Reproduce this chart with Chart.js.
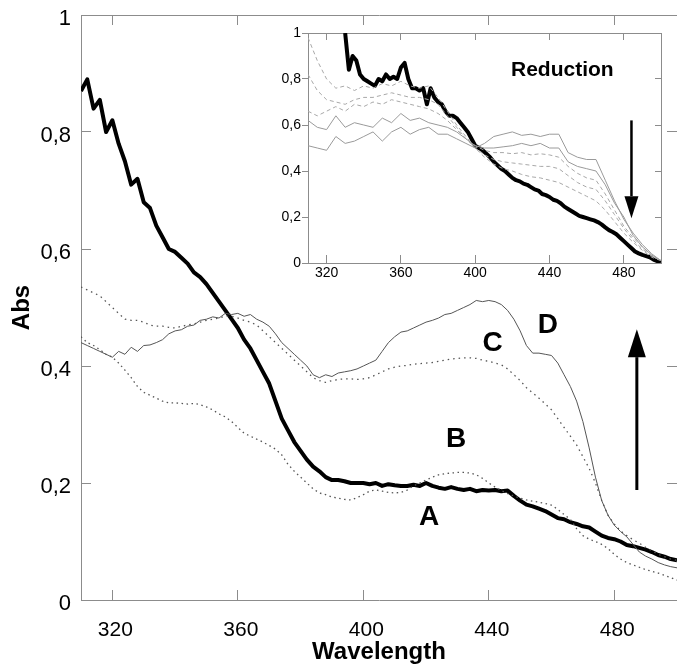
<!DOCTYPE html>
<html>
<head>
<meta charset="utf-8">
<script src="https://cdn.jsdelivr.net/npm/chart.js@4.4.1/dist/chart.umd.min.js"></script>
<style>
  html, body { margin: 0; padding: 0; background: #fff; }
  #wrap { position: relative; width: 677px; height: 664px; }
  #main { position: absolute; left: 0; top: 0; }
  #inset { position: absolute; left: 260px; top: 18px; }
</style>
</head>
<body>
<div id="wrap">
  <canvas id="main" width="677" height="664"></canvas>
  <canvas id="inset" width="410" height="275"></canvas>
</div>
<script>
// ---- data ----
// main plot: one value every 2 nm, 310..500
const mainWavelengths = Array.from({length: 96}, (_, i) => 310 + i * 2);
const curveA = [
  0.87, 0.89, 0.84, 0.855, 0.80, 0.82, 0.78, 0.75, 0.71, 0.72,
  0.68, 0.67, 0.64, 0.62, 0.60, 0.595, 0.585, 0.575, 0.56, 0.552,
  0.54, 0.525, 0.51, 0.495, 0.48, 0.465, 0.445, 0.43, 0.41, 0.39,
  0.37, 0.34, 0.31, 0.29, 0.27, 0.255, 0.24, 0.228, 0.22, 0.21,
  0.205, 0.205, 0.203, 0.2, 0.2, 0.2, 0.198, 0.2, 0.195, 0.198,
  0.196, 0.195, 0.195, 0.197, 0.195, 0.2, 0.195, 0.192, 0.19, 0.193,
  0.19, 0.188, 0.19, 0.186, 0.188, 0.187, 0.188, 0.186, 0.187, 0.178,
  0.17, 0.163, 0.16, 0.156, 0.152, 0.146, 0.14, 0.138, 0.133, 0.13,
  0.126, 0.124, 0.117, 0.11, 0.106, 0.104, 0.1, 0.094, 0.092, 0.089,
  0.086, 0.082, 0.077, 0.074, 0.07, 0.068
];
const curveB = [
  0.45, 0.44, 0.435, 0.428, 0.42, 0.415, 0.405, 0.393, 0.38, 0.365,
  0.355, 0.35, 0.345, 0.34, 0.337, 0.337, 0.336, 0.335, 0.336, 0.334,
  0.33, 0.325, 0.318, 0.313, 0.305, 0.295, 0.285, 0.28, 0.275, 0.27,
  0.264, 0.258, 0.248, 0.232, 0.22, 0.21, 0.2, 0.19, 0.183, 0.18,
  0.176, 0.174, 0.172, 0.171, 0.175, 0.18, 0.186, 0.188, 0.186, 0.184,
  0.183, 0.184, 0.188, 0.195, 0.2, 0.205, 0.21, 0.214, 0.216, 0.217,
  0.218, 0.218, 0.217, 0.214, 0.208, 0.2, 0.193, 0.187, 0.182, 0.178,
  0.174, 0.171, 0.169, 0.167, 0.165, 0.162, 0.155, 0.146, 0.138, 0.122,
  0.11, 0.104, 0.1, 0.095, 0.088, 0.078, 0.07, 0.064, 0.06, 0.056,
  0.052, 0.049, 0.046, 0.042, 0.038, 0.034
];
const curveC = [
  0.535, 0.53, 0.525, 0.52, 0.51, 0.50, 0.49, 0.48, 0.478, 0.478,
  0.475, 0.47, 0.468, 0.468, 0.466, 0.465, 0.468, 0.47, 0.472, 0.475,
  0.478, 0.48, 0.482, 0.485, 0.485, 0.482, 0.478, 0.475, 0.47, 0.46,
  0.45, 0.44, 0.43, 0.42, 0.41, 0.40, 0.39, 0.38, 0.375, 0.372,
  0.375, 0.377, 0.378, 0.378, 0.377, 0.378, 0.38, 0.385, 0.39, 0.395,
  0.398, 0.40, 0.401, 0.403, 0.404, 0.405, 0.406, 0.408, 0.41, 0.412,
  0.413, 0.414, 0.414, 0.413, 0.41, 0.408, 0.405, 0.402, 0.395, 0.385,
  0.375, 0.363, 0.354, 0.345, 0.335, 0.325, 0.31, 0.295, 0.28, 0.265,
  0.245, 0.225, 0.2, 0.17, 0.145, 0.13, 0.118, 0.11, 0.103, 0.097,
  0.09, 0.084, 0.078, 0.074, 0.07, 0.068
];
const curveD = [
  0.44, 0.435, 0.43, 0.425, 0.42, 0.415, 0.425, 0.42, 0.432, 0.425,
  0.435, 0.436, 0.44, 0.445, 0.455, 0.46, 0.462, 0.468, 0.47, 0.478,
  0.48, 0.484, 0.482, 0.49, 0.488, 0.49, 0.485, 0.488, 0.48, 0.475,
  0.468, 0.455, 0.44, 0.43, 0.42, 0.41, 0.40, 0.385, 0.38, 0.385,
  0.382, 0.388, 0.39, 0.392, 0.395, 0.40, 0.405, 0.41, 0.425, 0.44,
  0.45, 0.458, 0.46, 0.465, 0.47, 0.475, 0.478, 0.482, 0.488, 0.49,
  0.495, 0.50, 0.505, 0.512, 0.51, 0.512, 0.51, 0.505, 0.495, 0.48,
  0.46, 0.435, 0.422, 0.422, 0.42, 0.418, 0.405, 0.385, 0.365, 0.34,
  0.305, 0.26, 0.21, 0.17, 0.145, 0.128, 0.117, 0.108, 0.095, 0.082,
  0.075, 0.07, 0.064, 0.06, 0.057, 0.055
];

// inset: thick curve every 2 nm from 330, thin curves every 5 nm from 310
const insetThickWavelengths = Array.from({length: 86}, (_, i) => 330 + i * 2);
const insetThick = [
  1.0, 0.84, 0.90, 0.88, 0.82, 0.80, 0.79, 0.78, 0.77, 0.80,
  0.79, 0.82, 0.80, 0.81, 0.80, 0.85, 0.87, 0.80, 0.76, 0.76,
  0.75, 0.76, 0.69, 0.76, 0.72, 0.70, 0.69, 0.66, 0.64, 0.64,
  0.63, 0.61, 0.59, 0.57, 0.54, 0.51, 0.50, 0.49, 0.475, 0.46,
  0.44, 0.425, 0.41, 0.40, 0.385, 0.37, 0.36, 0.355, 0.345, 0.34,
  0.33, 0.32, 0.315, 0.30, 0.295, 0.287, 0.275, 0.27, 0.26, 0.245,
  0.235, 0.225, 0.215, 0.205, 0.20, 0.195, 0.19, 0.185, 0.178, 0.168,
  0.155, 0.143, 0.135, 0.125, 0.11, 0.095, 0.08, 0.065, 0.05, 0.042,
  0.035, 0.03, 0.025, 0.015, 0.008, 0.004
];
const insetWavelengths = Array.from({length: 39}, (_, i) => 310 + i * 5);
const inset1 = [
  0.51, 0.50, 0.49, 0.55, 0.52, 0.53, 0.55, 0.57, 0.53, 0.57,
  0.59, 0.56, 0.58, 0.59, 0.56, 0.56, 0.54, 0.52, 0.50, 0.52,
  0.55, 0.56, 0.57, 0.555, 0.56, 0.55, 0.56, 0.56, 0.48, 0.46,
  0.45, 0.45, 0.36, 0.27, 0.19, 0.13, 0.08, 0.04, 0.01
];
const inset2 = [
  0.62, 0.59, 0.58, 0.64, 0.59, 0.61, 0.60, 0.59, 0.63, 0.61,
  0.65, 0.62, 0.63, 0.61, 0.60, 0.59, 0.57, 0.54, 0.51, 0.50,
  0.50, 0.505, 0.51, 0.52, 0.51, 0.52, 0.50, 0.50, 0.44, 0.42,
  0.41, 0.40, 0.34, 0.26, 0.20, 0.12, 0.07, 0.035, 0.01
];
const inset3 = [
  0.66, 0.64, 0.66, 0.68, 0.66, 0.69, 0.68, 0.70, 0.69, 0.71,
  0.70, 0.69, 0.68, 0.67, 0.65, 0.62, 0.58, 0.54, 0.51, 0.49,
  0.48, 0.48, 0.475, 0.48, 0.47, 0.475, 0.47, 0.46, 0.42, 0.39,
  0.37, 0.36, 0.30, 0.23, 0.16, 0.11, 0.07, 0.03, 0.01
];
const inset4 = [
  0.82, 0.75, 0.71, 0.70, 0.69, 0.71, 0.72, 0.72, 0.73, 0.74,
  0.73, 0.72, 0.72, 0.71, 0.69, 0.64, 0.59, 0.54, 0.50, 0.47,
  0.45, 0.44, 0.435, 0.43, 0.425, 0.42, 0.42, 0.41, 0.38, 0.35,
  0.33, 0.32, 0.27, 0.21, 0.15, 0.10, 0.06, 0.03, 0.01
];
const inset5 = [
  0.98, 0.88, 0.80, 0.76, 0.77, 0.75, 0.77, 0.76, 0.78, 0.77,
  0.79, 0.77, 0.76, 0.77, 0.72, 0.66, 0.60, 0.55, 0.50, 0.46,
  0.43, 0.41, 0.40, 0.385, 0.375, 0.37, 0.36, 0.35, 0.33, 0.31,
  0.29, 0.27, 0.23, 0.18, 0.13, 0.09, 0.055, 0.025, 0.01
];

// tick labels
const xTicks = [320, 360, 400, 440, 480];
const yTicks = [0, 0.2, 0.4, 0.6, 0.8, 1];
const curveNames = ['A', 'B', 'C', 'D'];

// ---- styling ----
const FONT = '"Liberation Sans", Arial, sans-serif';
const axisGray = '#8c8c8c';
const fmt = v => String(v).replace('.', ',');

// where the letters sit (in data units)
const letterSpots = {A: [421, 0.142], B: [429.6, 0.274], C: [441.2, 0.438], D: [458.8, 0.47]};

function pts(xs, ys) {
  return ys.map((v, i) => ({x: xs[i], y: v}));
}

function setTicks(list) {
  return s => { s.ticks = list.map(v => ({value: v})); };
}

// fix the axis box size and drop the label overhang padding chart.js adds
function boxSize(dim, px) {
  return s => {
    s[dim] = px;
    s.paddingTop = 0; s.paddingBottom = 0;
    s.paddingLeft = 0; s.paddingRight = 0;
  };
}

function drawArrow(ctx, x, yTail, yTip, headLen, headW, lw) {
  const dir = yTip < yTail ? 1 : -1;   // 1 = pointing up
  ctx.strokeStyle = '#000';
  ctx.fillStyle = '#000';
  ctx.lineWidth = lw;
  ctx.beginPath();
  ctx.moveTo(x, yTail);
  ctx.lineTo(x, yTip + dir * headLen);
  ctx.stroke();
  ctx.beginPath();
  ctx.moveTo(x, yTip);
  ctx.lineTo(x - headW / 2, yTip + dir * headLen);
  ctx.lineTo(x + headW / 2, yTip + dir * headLen);
  ctx.closePath();
  ctx.fill();
}

const mainNotes = {
  id: 'mainNotes',
  afterDatasetsDraw(chart) {
    const {ctx, scales: {x, y}} = chart;
    ctx.save();
    ctx.font = 'bold 28px ' + FONT;
    ctx.fillStyle = '#000';
    ctx.textAlign = 'center';
    ctx.textBaseline = 'middle';
    curveNames.forEach(n => {
      const p = letterSpots[n];
      ctx.fillText(n, x.getPixelForValue(p[0]), y.getPixelForValue(p[1]));
    });
    // the upward arrow
    drawArrow(ctx, x.getPixelForValue(487.2), y.getPixelForValue(0.188), y.getPixelForValue(0.463), 28, 18, 3);
    ctx.restore();
  }
};

const insetNotes = {
  id: 'insetNotes',
  afterDatasetsDraw(chart) {
    const {ctx, scales: {x, y}} = chart;
    ctx.save();
    ctx.font = 'bold 21px ' + FONT;
    ctx.fillStyle = '#000';
    ctx.textAlign = 'center';
    ctx.textBaseline = 'middle';
    ctx.fillText('Reduction', x.getPixelForValue(446.9), y.getPixelForValue(0.84));
    drawArrow(ctx, x.getPixelForValue(484.1), y.getPixelForValue(0.62), y.getPixelForValue(0.195), 22, 14, 2.5);
    ctx.restore();
  }
};

// ---- main chart ----
new Chart(document.getElementById('main'), {
  type: 'line',
  data: {
    datasets: [
      {data: pts(mainWavelengths, curveD), borderColor: '#555', borderWidth: 1},
      {data: pts(mainWavelengths, curveC), borderColor: '#555', borderWidth: 1.3, borderDash: [1.5, 4]},
      {data: pts(mainWavelengths, curveB), borderColor: '#555', borderWidth: 1.3, borderDash: [1.5, 3.5]},
      {data: pts(mainWavelengths, curveA), borderColor: '#000', borderWidth: 4}
    ]
  },
  options: {
    responsive: false,
    animation: false,
    events: [],
    layout: {padding: 0},
    elements: {point: {radius: 0}, line: {tension: 0, borderJoinStyle: 'round'}},
    plugins: {legend: {display: false}, tooltip: {enabled: false}},
    scales: {
      x: {
        type: 'linear', position: 'bottom', min: 310, max: 500,
        afterFit: boxSize('height', 64),
        afterBuildTicks: setTicks(xTicks),
        grid: {drawOnChartArea: false, tickLength: -10, color: axisGray},
        border: {color: axisGray},
        ticks: {font: {family: FONT, size: 21}, color: '#000', padding: 28, labelOffset: 3,
                maxRotation: 0, autoSkip: false},
        title: {display: true, text: 'Wavelength', color: '#000', padding: 0,
                font: {family: FONT, size: 24, weight: 'bold', lineHeight: 1}}
      },
      x2: {
        type: 'linear', position: 'top', min: 310, max: 500,
        afterFit: boxSize('height', 15),
        afterBuildTicks: setTicks(xTicks),
        grid: {drawOnChartArea: false, tickLength: -10, color: axisGray},
        border: {color: axisGray},
        ticks: {display: false}
      },
      y: {
        type: 'linear', position: 'left', min: 0, max: 1,
        afterFit: boxSize('width', 81),
        afterBuildTicks: setTicks(yTicks),
        grid: {drawOnChartArea: false, tickLength: -10, color: axisGray},
        border: {color: axisGray},
        ticks: {font: {family: FONT, size: 22}, color: '#000', padding: 20, labelOffset: 4, callback: fmt},
        title: {display: true, text: 'Abs', color: '#000', padding: {top: 10, bottom: 0},
                font: {family: FONT, size: 24, weight: 'bold', lineHeight: 1}}
      },
      y2: {
        type: 'linear', position: 'right', min: 0, max: 1,
        afterFit: boxSize('width', 0),
        afterBuildTicks: setTicks(yTicks),
        grid: {drawOnChartArea: false, tickLength: -10, color: axisGray},
        border: {display: false},
        ticks: {display: false}
      }
    }
  },
  plugins: [mainNotes]
});

// ---- inset chart ----
new Chart(document.getElementById('inset'), {
  type: 'line',
  data: {
    datasets: [
      {data: pts(insetWavelengths, inset1), borderColor: '#9a9a9a', borderWidth: 1},
      {data: pts(insetWavelengths, inset2), borderColor: '#9a9a9a', borderWidth: 1},
      {data: pts(insetWavelengths, inset3), borderColor: '#a8a8a8', borderWidth: 1, borderDash: [4, 3]},
      {data: pts(insetWavelengths, inset4), borderColor: '#a8a8a8', borderWidth: 1, borderDash: [4, 3]},
      {data: pts(insetWavelengths, inset5), borderColor: '#a8a8a8', borderWidth: 1, borderDash: [4, 3]},
      {data: pts(insetThickWavelengths, insetThick), borderColor: '#000', borderWidth: 4}
    ]
  },
  options: {
    responsive: false,
    animation: false,
    events: [],
    layout: {padding: 0},
    elements: {point: {radius: 0}, line: {tension: 0, borderJoinStyle: 'round'}},
    plugins: {legend: {display: false}, tooltip: {enabled: false}},
    scales: {
      x: {
        type: 'linear', position: 'bottom', min: 310, max: 500,
        afterFit: boxSize('height', 30),
        afterBuildTicks: setTicks(xTicks),
        grid: {drawOnChartArea: false, tickLength: -8, color: axisGray},
        border: {color: axisGray},
        ticks: {font: {family: FONT, size: 14}, color: '#000', padding: 10, maxRotation: 0, autoSkip: false}
      },
      x2: {
        type: 'linear', position: 'top', min: 310, max: 500,
        afterFit: boxSize('height', 15),
        afterBuildTicks: setTicks(xTicks),
        grid: {drawOnChartArea: false, tickLength: -7, color: axisGray},
        border: {color: axisGray},
        ticks: {display: false}
      },
      y: {
        type: 'linear', position: 'left', min: 0, max: 1,
        afterFit: boxSize('width', 48),
        afterBuildTicks: setTicks(yTicks),
        grid: {drawOnChartArea: false, tickLength: 6, color: axisGray},
        border: {color: axisGray},
        ticks: {font: {family: FONT, size: 14}, color: '#000', padding: 1, callback: fmt}
      },
      y2: {
        type: 'linear', position: 'right', min: 0, max: 1,
        afterFit: boxSize('width', 9),
        afterBuildTicks: setTicks(yTicks),
        grid: {drawOnChartArea: false, tickLength: -6, color: axisGray},
        border: {color: axisGray},
        ticks: {display: false}
      }
    }
  },
  plugins: [insetNotes]
});
</script>
</body>
</html>
